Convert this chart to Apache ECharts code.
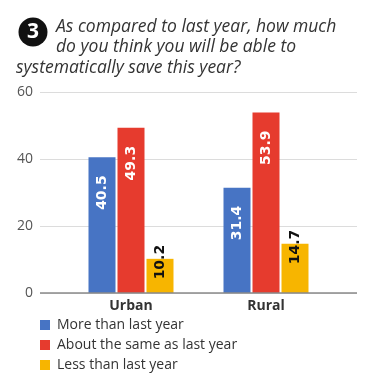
<!DOCTYPE html>
<html><head><meta charset="utf-8">
<script src="https://cdn.jsdelivr.net/npm/echarts@6/dist/echarts.min.js"></script>
<style>html,body{margin:0;padding:0;background:#fff}#c{width:379px;height:381px}</style>
</head><body><div id="c"></div>
<script>
const categories = ['Urban', 'Rural'];
const seriesNames = ['More than last year', 'About the same as last year', 'Less than last year'];
const moreThan = [40.5, 31.4];
const aboutSame = [49.3, 53.9];
const lessThan = [10.2, 14.7];
const yTicks = [0, 20, 40, 60];

const colors = ['#4774c4', '#e63b2e', '#f7b500'];
const chart = echarts.init(document.getElementById('c'), null, {renderer: 'canvas'});
const labelBase = {show: true, rotate: 90, fontFamily: 'DejaVu Sans', fontWeight: 'bold', fontSize: 14, formatter: p => p.value.toFixed(1)};
function mk(name, data, i) {
  const inside = i < 2;
  return {
    name, type: 'bar', xAxisIndex: 1, yAxisIndex: 1, data,
    barWidth: 27, barGap: '7.4%',
    itemStyle: {color: colors[i]},
    label: Object.assign({}, labelBase, {position: 'insideTop', distance: inside ? 18 : -14, align: 'right', verticalAlign: 'middle', color: inside ? '#fff' : '#111'})
  };
}
const titleFont = 'italic 17.5px "Open Sans"';
chart.setOption({
  animation: false,
  textStyle: {fontFamily: 'Open Sans'},
  graphic: [
    {type: 'circle', shape: {cx: 33, cy: 32, r: 14.5}, style: {fill: '#111'}},
    {type: 'text', x: 33, y: 32, style: {text: '3', fill: '#fff', font: 'bold 21px "Open Sans"', align: 'center', verticalAlign: 'middle'}},
    {type: 'text', x: 56, y: 27, style: {text: 'As compared to last year, how much', fill: '#333', font: titleFont, verticalAlign: 'middle'}},
    {type: 'text', x: 56, y: 47, style: {text: 'do you think you will be able to', fill: '#333', font: titleFont, verticalAlign: 'middle'}},
    {type: 'text', x: 16, y: 68, style: {text: 'systematically save this year?', fill: '#333', font: titleFont, verticalAlign: 'middle'}}
  ],
  legend: {
    orient: 'vertical', left: 40, top: 318, padding: 0, itemWidth: 10, itemHeight: 10, itemGap: 6,
    icon: 'rect', data: seriesNames,
    textStyle: {fontSize: 14, color: '#333', fontFamily: 'Open Sans', padding: [0, 0, 0, 2]}
  },
  grid: [
    {left: 40, right: 22, top: 92, bottom: 88},
    {left: 63.5, right: 45.5, top: 92, bottom: 88}
  ],
  xAxis: [
    {gridIndex: 0, type: 'value', min: 0, max: 1, show: true, axisLine: {show: false}, axisTick: {show: false}, axisLabel: {show: false}, splitLine: {show: false}},
    {gridIndex: 1, type: 'category', data: categories, axisLine: {show: false}, axisTick: {show: false},
     axisLabel: {fontSize: 14, fontWeight: 'bold', color: '#333', margin: 6, fontFamily: 'Open Sans'}}
  ],
  yAxis: [
    {gridIndex: 0, type: 'value', min: yTicks[0], max: yTicks[yTicks.length - 1], interval: 20,
     axisLine: {show: false}, axisTick: {show: false},
     axisLabel: {fontSize: 14, color: '#555', margin: 7, fontFamily: 'Open Sans'},
     splitLine: {lineStyle: {color: '#dcdcdc', width: 1}}},
    {gridIndex: 1, type: 'value', min: yTicks[0], max: yTicks[yTicks.length - 1], interval: 20, show: false}
  ],
  series: [
    mk(seriesNames[0], moreThan, 0),
    mk(seriesNames[1], aboutSame, 1),
    mk(seriesNames[2], lessThan, 2),
    {type: 'line', xAxisIndex: 0, yAxisIndex: 0, data: [], markLine: {silent: true, symbol: 'none', label: {show: false},
      lineStyle: {color: '#8a8a8a', width: 1.5, type: 'solid'}, data: [{yAxis: 0}]}}
  ]
});
</script></body></html>
